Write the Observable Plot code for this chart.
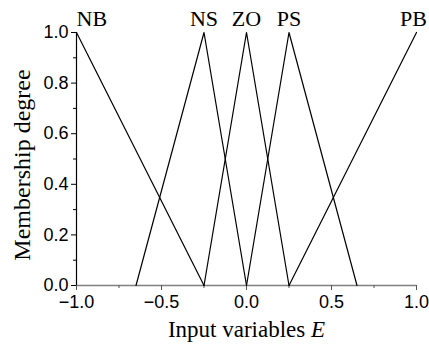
<!DOCTYPE html>
<html>
<head>
<meta charset="utf-8">
<script src="https://cdn.jsdelivr.net/npm/d3@7"></script>
<script src="https://cdn.jsdelivr.net/npm/@observablehq/plot@0.6"></script>
<style>
  html, body { margin: 0; padding: 0; background: #fff; }
</style>
</head>
<body>
<div id="chart"></div>
<script>
// Membership function sets (input variable E)
const categories = ["NB", "NS", "ZO", "PS", "PB"];
const nbX = [-1, -0.25],        nbY = [1, 0];
const nsX = [-0.65, -0.25, 0],  nsY = [0, 1, 0];
const zoX = [-0.25, 0, 0.25],   zoY = [0, 1, 0];
const psX = [0, 0.25, 0.65],    psY = [0, 1, 0];
const pbX = [0.25, 1],          pbY = [0, 1];
const labelX = [-1, -0.25, 0, 0.25, 1];
const xTicks = [-1, -0.5, 0, 0.5, 1];
const xMinor = [-0.75, -0.25, 0.25, 0.75];
const yTicks = [0, 0.2, 0.4, 0.6, 0.8, 1.0];
const yMinor = [0.1, 0.3, 0.5, 0.7, 0.9];

const sets = [[nbX, nbY], [nsX, nsY], [zoX, zoY], [psX, psY], [pbX, pbY]];
const rows = sets.flatMap(([xs, ys], i) => xs.map((x, j) => ({set: categories[i], x, y: ys[j]})));
const labels = categories.map((c, i) => ({c, x: labelX[i]}));

const sans = "'Liberation Sans', Arial, sans-serif";
const serif = "'Liberation Serif', 'Times New Roman', serif";
const labelOpts = {x: "x", y: () => 1, text: "c", dy: -14, lineAnchor: "middle", fontSize: 22, fontFamily: serif};

const svg = Plot.plot({
  width: 429,
  height: 345,
  marginLeft: 76,
  marginRight: 13,
  marginTop: 32,
  marginBottom: 60,
  x: {domain: [-1, 1]},
  y: {domain: [0, 1]},
  style: {fontFamily: sans, color: "#000", background: "#fff"},
  marks: [
    Plot.ruleY([0], {stroke: "#808080", strokeWidth: 1.5}),
    Plot.ruleX([-1], {stroke: "#000", strokeWidth: 1.2}),
    Plot.axisX(xTicks, {tickSize: 5, tickPadding: 5, stroke: "#555", fontSize: 18, tickFormat: d3.format(".1f"), label: null, fill: "#000"}),
    Plot.axisX(xMinor, {tickSize: 3, stroke: "#555", tickFormat: () => "", label: null}),
    Plot.axisY(yTicks, {tickSize: 5, tickPadding: 3, fontSize: 18, tickFormat: d3.format(".1f"), label: null}),
    Plot.axisY(yMinor, {tickSize: 3, tickFormat: () => "", label: null}),
    Plot.line(rows, {x: "x", y: "y", z: "set", stroke: "#000", strokeWidth: 1.2}),
    Plot.text(labels.slice(0, 1), {...labelOpts, textAnchor: "start"}),
    Plot.text(labels.slice(1, 4), {...labelOpts, textAnchor: "middle"}),
    Plot.text(labels.slice(4), {...labelOpts, textAnchor: "middle", dx: -3}),
    Plot.text(["Membership degree"], {frameAnchor: "left", textAnchor: "middle", rotate: -90, dx: -54, dy: 6, fontSize: 24, fontFamily: serif, lineAnchor: "middle"}),
    Plot.text(["Input variables E"], {frameAnchor: "bottom", textAnchor: "middle", dy: 44, fontSize: 23, fontFamily: serif, lineAnchor: "middle"})
  ]
});

// italicize the variable symbol E in the x-axis title
d3.select(svg).selectAll("text").each(function() {
  const t = d3.select(this);
  if (t.text() === "Input variables E") {
    t.text("Input variables ");
    t.append("tspan").attr("font-style", "italic").text("E");
  }
});

document.getElementById("chart").appendChild(svg);
</script>
</body>
</html>
